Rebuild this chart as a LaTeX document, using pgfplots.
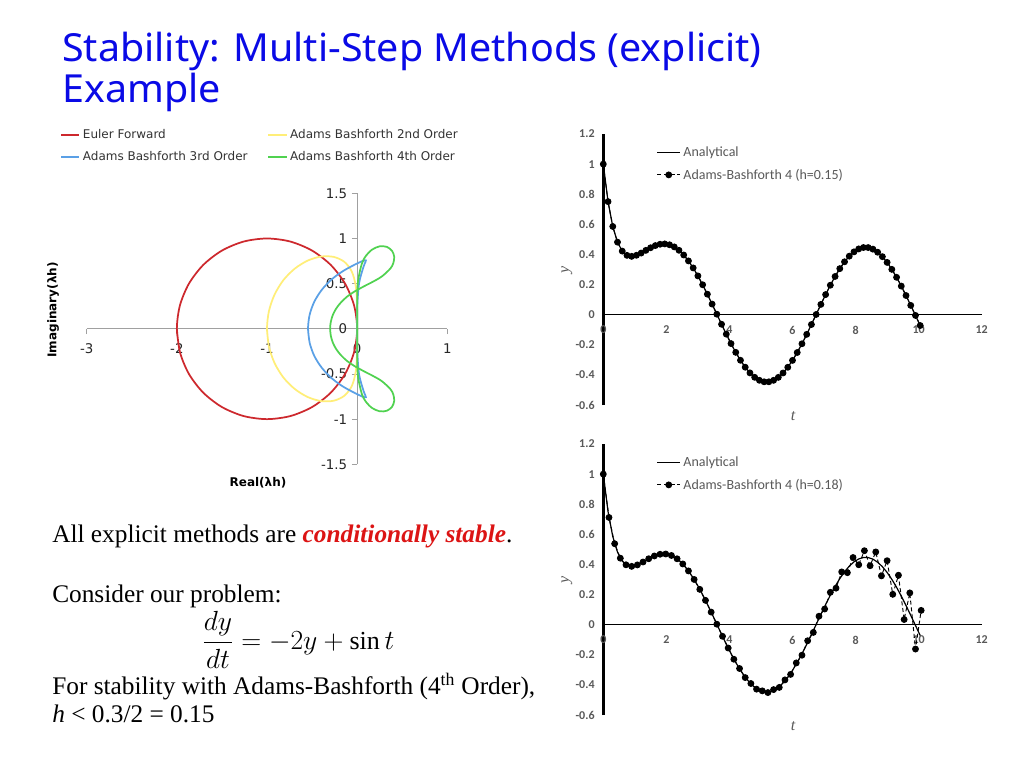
\documentclass[border=0pt]{standalone}
\usepackage{pgfplots}
\usepackage{pgfplotstable}
\pgfplotsset{compat=1.18}
\usepackage{fontspec}
\setmainfont{Liberation Serif}
\newfontfamily\titlefont[FakeStretch=1.02]{Noto Sans}
\newfontfamily\verdana{DejaVu Sans}
\newfontfamily\calibri{Carlito}

\definecolor{titleblue}{RGB}{10,10,230}
\definecolor{condred}{RGB}{220,20,20}
\definecolor{eulred}{RGB}{205,40,45}
\definecolor{abyellow}{RGB}{255,238,120}
\definecolor{abblue}{RGB}{90,160,230}
\definecolor{abgreen}{RGB}{80,210,80}
\definecolor{axisgray}{RGB}{160,160,160}
\definecolor{tickgray}{RGB}{89,89,89}

% stability boundaries (boundary locus, read as x = Re, y = Im)
\pgfplotstableread{
x y
-2 0
-1.9659 -0.2588
-1.866 -0.5
-1.7071 -0.7071
-1.5 -0.866
-1.2588 -0.9659
-1 -1
-0.7412 -0.9659
-0.5 -0.866
-0.2929 -0.7071
-0.134 -0.5
-0.0341 -0.2588
0 0
-0.0341 0.2588
-0.134 0.5
-0.2929 0.7071
-0.5 0.866
-0.7412 0.9659
-1 1
-1.2588 0.9659
-1.5 0.866
-1.7071 0.7071
-1.866 0.5
-1.9659 0.2588
-2 0
-1.9659 -0.2588
}\euler

\pgfplotstableread{
x y
-1 0
-0.979 -0.194
-0.917 -0.377
-0.819 -0.538
-0.692 -0.666
-0.549 -0.755
-0.400 -0.800
-0.260 -0.796
-0.143 -0.742
-0.060 -0.635
-0.015 -0.472
-0.001 -0.255
0 0
-0.001 0.255
-0.015 0.472
-0.060 0.635
-0.143 0.742
-0.260 0.796
-0.400 0.800
-0.549 0.755
-0.692 0.666
-0.819 0.538
-0.917 0.377
-0.979 0.194
-1 0
-0.979 -0.194
}\abtwo

\pgfplotstableread{
x y
-0.545 0
-0.527 -0.155
-0.475 -0.301
-0.391 -0.433
-0.284 -0.546
-0.162 -0.636
-0.041 -0.703
0.055 -0.749
0.085 -0.759
0.097 -0.757
0.091 -0.736
0.071 -0.688
0.022 -0.508
0.002 -0.261
0 0
0.002 0.261
0.022 0.508
0.071 0.688
0.091 0.736
0.097 0.757
0.085 0.759
0.055 0.749
-0.041 0.703
-0.162 0.636
-0.284 0.546
-0.391 0.433
-0.475 0.301
-0.527 0.155
-0.545 0
-0.527 -0.155
}\abthree

\pgfplotstableread{
x y
-0.300 0
-0.292 -0.078
-0.269 -0.155
-0.231 -0.227
-0.178 -0.294
-0.112 -0.356
-0.032 -0.411
0.060 -0.462
0.110 -0.488
0.163 -0.515
0.272 -0.578
0.370 -0.669
0.402 -0.730
0.411 -0.798
0.388 -0.862
0.330 -0.907
0.249 -0.913
0.166 -0.877
0.098 -0.809
0.052 -0.721
0.010 -0.533
0.001 -0.351
0.000 -0.175
0 0
0.000 0.175
0.001 0.351
0.010 0.533
0.052 0.721
0.098 0.809
0.166 0.877
0.249 0.913
0.330 0.907
0.388 0.862
0.411 0.798
0.402 0.730
0.370 0.669
0.272 0.578
0.163 0.515
0.110 0.488
0.060 0.462
-0.032 0.411
-0.112 0.356
-0.178 0.294
-0.231 0.227
-0.269 0.155
-0.292 0.078
-0.300 0
-0.292 -0.078
}\abfour

% analytical solution, h = 0.15 (AB4 with h = 0.15 lies on it)
\pgfplotstableread{
t y
0 1.0000
0.15 0.7510
0.30 0.5858
0.45 0.4818
0.60 0.4222
0.75 0.3941
0.90 0.3874
1.05 0.3944
1.20 0.4092
1.35 0.4272
1.50 0.4446
1.65 0.4589
1.80 0.4678
1.95 0.4700
2.10 0.4643
2.25 0.4501
2.40 0.4276
2.55 0.3964
2.70 0.3571
2.85 0.3106
3.00 0.2575
3.15 0.1988
3.30 0.1360
3.45 0.0703
3.60 0.0032
3.75 -0.0638
3.90 -0.1294
4.05 -0.1920
4.20 -0.2503
4.35 -0.3029
4.50 -0.3489
4.65 -0.3867
4.80 -0.4160
4.95 -0.4359
5.10 -0.4459
5.25 -0.4459
5.40 -0.4360
5.55 -0.4163
5.70 -0.3872
5.85 -0.3494
6.00 -0.3037
6.15 -0.2512
6.30 -0.1932
6.45 -0.1308
6.60 -0.0654
6.75 0.0014
6.90 0.0682
7.05 0.1335
7.20 0.1958
7.35 0.2537
7.50 0.3059
7.65 0.3512
7.80 0.3886
7.95 0.4173
8.10 0.4367
8.25 0.4461
8.40 0.4457
8.55 0.4352
8.70 0.4149
8.85 0.3853
9.00 0.3471
9.15 0.3010
9.30 0.2482
9.45 0.1898
9.60 0.1272
9.75 0.0617
9.90 -0.0052
10.05 -0.0720
}\anal

% AB4 with h = 0.18
\pgfplotstableread{
t y
0 1.0000
0.18 0.7121
0.36 0.5379
0.54 0.4416
0.72 0.3977
0.90 0.3874
1.08 0.3969
1.26 0.4163
1.44 0.4379
1.62 0.4564
1.80 0.4678
1.98 0.4694
2.16 0.4597
2.34 0.4376
2.52 0.4033
2.70 0.3571
2.88 0.3004
3.06 0.2345
3.24 0.1615
3.42 0.0836
3.60 0.0032
3.78 -0.0772
3.96 -0.1550
4.14 -0.2294
4.32 -0.2911
4.50 -0.3513
4.68 -0.3906
4.86 -0.4282
5.04 -0.4395
5.22 -0.4509
5.40 -0.4312
5.58 -0.4167
5.76 -0.3668
5.94 -0.3302
6.12 -0.2540
6.30 -0.2028
6.48 -0.1069
6.66 -0.0515
6.84 0.0562
7.02 0.1040
7.20 0.2151
7.38 0.2425
7.56 0.3504
7.74 0.3454
7.92 0.4460
8.10 0.3980
8.28 0.4914
8.46 0.3915
8.64 0.4831
8.82 0.3242
9.00 0.4249
9.18 0.2015
9.36 0.3284
9.54 0.0343
9.72 0.2111
9.90 -0.1617
10.08 0.0949
}\abeighteen

\pgfplotsset{
  solplot/.style={
    scale only axis, width=283.8pt, height=203.25pt,
    xmin=0, xmax=12, ymin=-0.6, ymax=1.2,
    enlargelimits=false,
    axis lines*=middle,
    hide obscured x ticks=false, hide obscured y ticks=false,
    x axis line style={black, line width=0.8pt},
    y axis line style={black, line width=1.8pt},
    major tick length=0pt,
    xtick={0,2,4,6,8,10,12},
    ytick={-0.6,-0.4,-0.2,0,0.2,0.4,0.6,0.8,1,1.2},
    /pgf/number format/assume math mode=true,
    tick label style={font=\calibri\bfseries\fontsize{9}{10}\selectfont, text=tickgray},
    yticklabel style={xshift=-3pt},
    xticklabel style={yshift=-5pt},
    legend cell align=left,
    legend style={draw=none, fill=none, anchor=north west, at={(0.13,0.975)},
      font=\calibri\fontsize{10.5}{12}\selectfont, text=tickgray, row sep=4pt},
  },
  anplot/.style={black, line width=0.9pt, no marks},
  abplot/.style={black, line width=0.7pt, dash pattern=on 3pt off 2pt,
    mark=*, mark size=2.2pt, mark options={solid}},
}

\begin{document}
\begin{tikzpicture}[x=0.75pt,y=-0.75pt]
\path[use as bounding box, fill=white] (0,0) rectangle (1024,768);

% title
\node[anchor=base west, inner sep=0, text=titleblue,
  font=\titlefont\fontsize{29}{32}\selectfont] at (62,61) {Stability: Multi-Step Methods (explicit)};
\node[anchor=base west, inner sep=0, text=titleblue,
  font=\titlefont\fontsize{29}{32}\selectfont] at (62,102) {Example};

% stability regions
\begin{axis}[
  at={(65.025pt,-348.225pt)}, anchor=south west,
  scale only axis, width=270.45pt, height=203.25pt,
  xmin=-3, xmax=1, ymin=-1.5, ymax=1.5,
  enlargelimits=false,
  axis lines*=middle,
  hide obscured x ticks=false, hide obscured y ticks=false,
  axis line style={axisgray, line width=0.8pt},
  tick style={axisgray, line width=0.6pt},
  major tick length=4pt, tick align=outside,
  xtick={-3,-2,-1,0,1},
  ytick={-1.5,-1,-0.5,0,0.5,1,1.5},
  /pgf/number format/assume math mode=true,
  tick label style={font=\verdana\fontsize{10}{12}\selectfont, text=black!85},
  xticklabel style={yshift=-3.5pt},
  legend columns=2,
  legend cell align=left,
  legend style={draw=none, fill=none, anchor=north west, at={(-0.085,1.255)},
    font=\verdana\fontsize{9}{11}\selectfont, text=black!80, row sep=4pt,
    /tikz/every even column/.append style={column sep=13pt}},
  legend image post style={xscale=0.8},
]
\addplot[eulred, line width=1.3pt, smooth] table[x=x, y=y] {\euler};
\addlegendentry{Euler Forward}
\addplot[abyellow, line width=1.3pt, smooth] table[x=x, y=y] {\abtwo};
\addlegendentry{Adams Bashforth 2nd Order}
\addplot[abblue, line width=1.3pt, smooth] table[x=x, y=y] {\abthree};
\addlegendentry{Adams Bashforth 3rd Order}
\addplot[abgreen, line width=1.3pt, smooth] table[x=x, y=y] {\abfour};
\addlegendentry{Adams Bashforth 4th Order}
\end{axis}
\node[font=\verdana\bfseries\fontsize{9}{11}\selectfont] at (258,483) {Real(λh)};
\node[rotate=90, font=\verdana\bfseries\fontsize{9}{11}\selectfont] at (53,310) {Imaginary(λh)};

% h = 0.15
\begin{axis}[solplot, at={(452.475pt,-303.75pt)}, anchor=south west]
\addplot[anplot] table[x=t, y=y] {\anal};
\addlegendentry{Analytical}
\addplot[abplot] table[x=t, y=y] {\anal};
\addlegendentry{Adams-Bashforth 4 (h=0.15)}
\end{axis}
\node[rotate=90, font=\itshape\fontsize{12}{14}\selectfont, text=tickgray] at (567,270) {y};
\node[font=\itshape\fontsize{12}{14}\selectfont, text=tickgray] at (793,416) {t};

% h = 0.18
\begin{axis}[solplot, at={(452.475pt,-536.25pt)}, anchor=south west]
\addplot[anplot] table[x=t, y=y] {\anal};
\addlegendentry{Analytical}
\addplot[abplot] table[x=t, y=y] {\abeighteen};
\addlegendentry{Adams-Bashforth 4 (h=0.18)}
\end{axis}
\node[rotate=90, font=\itshape\fontsize{12}{14}\selectfont, text=tickgray] at (567,580) {y};
\node[font=\itshape\fontsize{12}{14}\selectfont, text=tickgray] at (793,726) {t};

% text
\begin{scope}[every node/.style={anchor=base west, inner sep=0, font=\fontsize{19}{22}\selectfont}]
\node at (52,542) {All explicit methods are \textcolor{condred}{\bfseries\itshape conditionally stable}.};
\node at (52,602) {Consider our problem:};
\node at (52,694) {For stability with Adams-Bashforth (4\textsuperscript{th} Order),};
\node at (52,722) {\textit{h} < 0.3/2 = 0.15};
\end{scope}
\node[anchor=west, inner sep=0, font=\fontsize{19.5}{22}\selectfont] at (202,640) {$\displaystyle\frac{dy}{dt} = -2y + \sin t$};
\end{tikzpicture}
\end{document}
